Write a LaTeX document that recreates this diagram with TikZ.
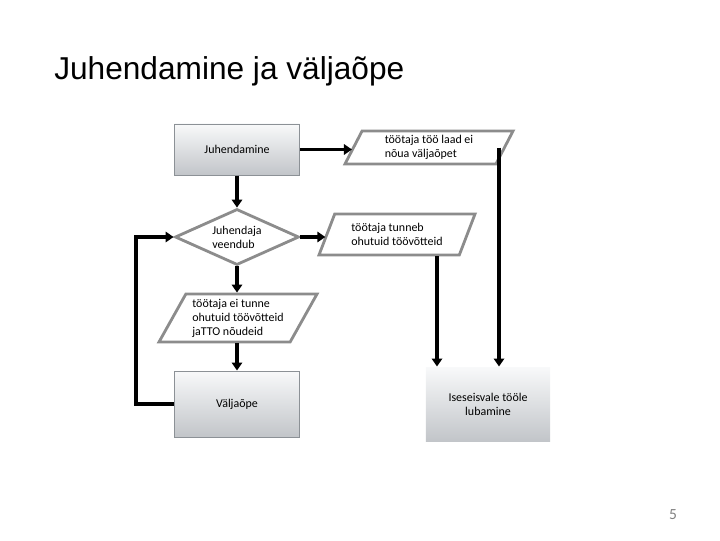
\documentclass[tikz,border=0pt]{standalone}
\usepackage{fontspec}
\setmainfont{Carlito}
\newfontfamily\titlefont{Liberation Sans}
\usetikzlibrary{arrows.meta,shapes.geometric}
\definecolor{boxline}{HTML}{8C9196}
\definecolor{shapeline}{HTML}{8C8C8C}
\definecolor{boxtop}{HTML}{F8F9FA}
\definecolor{boxbottom}{HTML}{C2C5C9}

\begin{document}
\begin{tikzpicture}[x=0.025cm,y=-0.025cm,>={Triangle[length=2mm,width=2.6mm]},
  font=\fontsize{8.5}{10}\selectfont,line cap=butt,
  flow/.style={draw=black,line width=2.3pt,->},
  stepbox/.style={rectangle,draw=boxline,line width=0.7pt,top color=boxtop,bottom color=boxbottom,
    minimum width=3.125cm,align=center,inner sep=0pt},
  slant/.style={trapezium,trapezium stretches body=true,trapezium left angle=55,trapezium right angle=125,
    draw=shapeline,line width=2pt,fill=white,align=left,inner sep=0pt},
  check/.style={diamond,aspect=2.2,draw=shapeline,line width=2pt,fill=white,align=left,inner sep=0pt,
    minimum width=3.1cm,minimum height=1.4cm}]
\useasboundingbox (0,0) rectangle (720,540);
\node[anchor=base west,inner sep=0pt,font=\titlefont\fontsize{22.5}{27}\selectfont] (title) at (54,79) {Juhendamine ja väljaõpe};

% left column
\node[stepbox,minimum height=1.275cm] (juh) at (237,149.5) {Juhendamine};
\node[check] (dia) at (237,237) {Juhendaja\\veendub};
\node[slant,minimum width=3.95cm,minimum height=1.2cm] (p3) at (238,318) {töötaja ei tunne\\ohutuid töövõtteid\\jaTTO nõudeid};
\node[stepbox,minimum height=1.65cm] (valj) at (237,404) {Väljaõpe};

% right column
\node[slant,minimum width=4.2cm,minimum height=0.825cm] (p1) at (429,147.5) {töötaja töö laad ei\\nõua väljaõpet};
\node[slant,minimum width=3.9cm,minimum height=1.025cm] (p2) at (397,234.5) {töötaja tunneb\\ohutuid töövõtteid};
\node[stepbox,draw=none,minimum width=3.1cm,minimum height=1.85cm] (lub) at (488,404) {Iseseisvale tööle\\lubamine};

\node[text=gray,font=\fontsize{11}{13}\selectfont] (page) at (673,515) {5};

% connectors
\draw[flow] (juh.east) -- (juh.east -| p1.west);
\draw[flow] (juh.south) -- (dia.north);
\draw[flow] (dia.east) -- (dia.east -| p2.west);
\draw[flow] (dia.south) -- (dia.south |- p3.north);
\draw[flow] (dia.south |- p3.south) -- (valj.north);
\draw[flow] (valj.west) -- ++(-38,0) |- (dia.west);
\coordinate (d1) at (499,0);
\coordinate (d2) at (437,0);
\draw[flow] (d1 |- p1.east) -- (d1 |- lub.north);
\draw[flow] (d2 |- p2.south) -- (d2 |- lub.north);
\end{tikzpicture}
\end{document}
